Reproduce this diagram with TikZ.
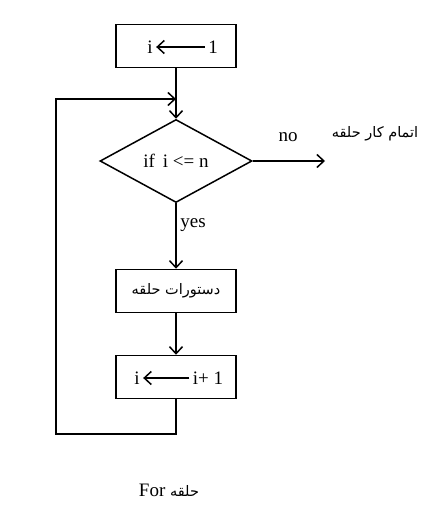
\documentclass[tikz,border=0pt]{standalone}
\usepackage{fontspec}
\setmainfont{Liberation Serif}
\newfontfamily\arabicfont[Script=Arabic]{DejaVu Sans}
\TeXXeTstate=1
\usetikzlibrary{positioning, shapes.geometric, arrows.meta}
\tikzset{
every node/.style={font=\fontsize{19}{21}\selectfont},
block/.style={draw, line width=1.5pt, minimum width=120pt, minimum height=43pt, inner sep=0pt},
decision/.style={draw, diamond, line width=1.5pt, minimum width=152pt, minimum height=83pt, shape aspect=1.83, inner sep=0pt},
arrow/.style={line width=1.5pt, -{Straight Barb[length=7pt, width=13pt]}},
line/.style={line width=1.5pt},
farsi/.style={font=\arabicfont\fontsize{14.5}{16}\selectfont},
}

\begin{document}
\begin{tikzpicture}[x=1pt, y=-1pt]
    \useasboundingbox (0,0) rectangle (435,508);

    %blocks
    \node[block]    (init) at (176,46) { };
    \node[decision] (cond) at (176,161) {if\, i <= n};
    \node[block]    (body) at (176,291) [farsi] {\beginR دستورات حلقه\endR};
    \node[block]    (incr) at (176,377) { };

    %texts in the assignment boxes
    \node (initvar) at (150,47) {i};
    \node (initval) at (213,47) {1};
    \node (incrvar) at (137,378) {i};
    \node (incrval) at (208,378) {i+ 1};

    %labels
    \node[farsi] (done) at (375,134) {\beginR اتمام كار حلقه\endR};
    \node (no)  at (288,137) {no};
    \node (yes) at (193,225) {yes};
    \node (title) at (169,490) {For {\arabicfont\fontsize{14.5}{16}\selectfont\beginR حلقه\endR}};

    %loop corners
    \coordinate (loopbot)  at (176,434);
    \coordinate (loopleft) at (56,434);
    \coordinate (looptop)  at (56,99);
    \coordinate (loopin)   at (176,99);
    \coordinate (exit)     at (325,161);

    %arrows
    \draw[arrow] (initval) -- (initvar);
    \draw[arrow] (incrval) -- (incrvar);
    \draw[arrow] (init.south) -- (cond.north);
    \draw[arrow] (cond.south) -- (body.north);
    \draw[arrow] (body.south) -- (incr.north);
    \draw[arrow] (cond.east) -- (exit);
    \draw[arrow] (incr.south) -- (loopbot) -- (loopleft) -- (looptop) -- (loopin);

\end{tikzpicture}
\end{document}
